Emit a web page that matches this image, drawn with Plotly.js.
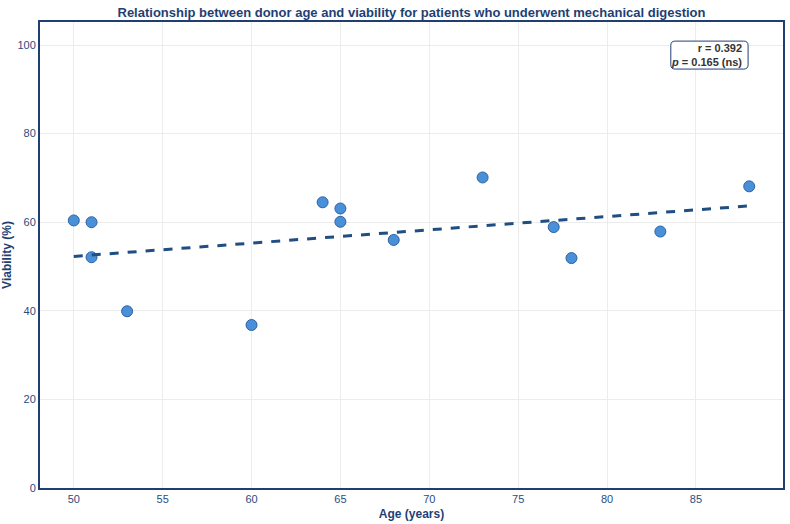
<!DOCTYPE html>
<html>
<head>
<meta charset="utf-8">
<script src="https://cdn.plot.ly/plotly-3.0.1.min.js"></script>
<style>
  html, body { margin: 0; padding: 0; background: #ffffff; }
  #chart { width: 790px; height: 524px; }
</style>
</head>
<body>
<div id="chart"></div>
<script>
// Donor age (years) and cell viability (%) for mechanically digested samples
const donorAge = [50, 51, 51, 53, 60, 64, 65, 65, 68, 73, 77, 78, 83, 88];
const viability = [60.4, 60.0, 52.1, 39.9, 36.8, 64.5, 63.1, 60.1, 56.0, 70.1, 58.9, 51.9, 57.9, 68.1];

// Correlation statistics as reported
const statR = "0.392";
const statP = "0.165";
const statSig = "ns";

// Least-squares fit for the trend line
function linearFit(xs, ys) {
  const n = xs.length;
  const mx = xs.reduce((a, b) => a + b, 0) / n;
  const my = ys.reduce((a, b) => a + b, 0) / n;
  let sxy = 0, sxx = 0;
  for (let i = 0; i < n; i++) {
    sxy += (xs[i] - mx) * (ys[i] - my);
    sxx += (xs[i] - mx) * (xs[i] - mx);
  }
  const slope = sxy / sxx;
  return { slope: slope, intercept: my - slope * mx };
}
const fit = linearFit(donorAge, viability);
const xMin = Math.min(...donorAge), xMax = Math.max(...donorAge);
const fitX = [xMin, xMax];
const fitY = fitX.map(x => fit.intercept + fit.slope * x);

const navy = "#1f3f73";
const tickColor = "#2b4c7e";

const traces = [
  {
    x: donorAge, y: viability,
    type: "scatter", mode: "markers",
    marker: { size: 11, color: "#4a90d9", line: { color: "#2c62a3", width: 1 } },
    hoverinfo: "x+y", showlegend: false
  },
  {
    x: fitX, y: fitY,
    type: "scatter", mode: "lines",
    line: { color: "#1f4e82", width: 3, dash: "dash" },
    hoverinfo: "skip", showlegend: false
  }
];

// Rounded frame for the statistics box (paper coordinates)
function roundedBox(x0, y0, x1, y1, rx, ry) {
  return "M " + (x0 + rx) + " " + y1 +
    " L " + (x1 - rx) + " " + y1 +
    " Q " + x1 + " " + y1 + " " + x1 + " " + (y1 - ry) +
    " L " + x1 + " " + (y0 + ry) +
    " Q " + x1 + " " + y0 + " " + (x1 - rx) + " " + y0 +
    " L " + (x0 + rx) + " " + y0 +
    " Q " + x0 + " " + y0 + " " + x0 + " " + (y0 + ry) +
    " L " + x0 + " " + (y1 - ry) +
    " Q " + x0 + " " + y1 + " " + (x0 + rx) + " " + y1 + " Z";
}

const layout = {
  width: 790, height: 524,
  margin: { l: 40, r: 7, t: 22, b: 36 },
  paper_bgcolor: "#ffffff",
  plot_bgcolor: "#ffffff",
  font: { family: "Liberation Sans, Arial, sans-serif", color: tickColor, size: 11 },
  title: {
    text: "<b>Relationship between donor age and viability for patients who underwent mechanical digestion</b>",
    font: { size: 13, color: navy },
    xref: "paper", x: 0.5, xanchor: "center", y: 0.977, yanchor: "middle"
  },
  xaxis: {
    range: [48.1, 89.9],
    tickvals: [50, 55, 60, 65, 70, 75, 80, 85],
    showgrid: true, gridcolor: "#ececec", gridwidth: 1,
    zeroline: false,
    showline: true, linecolor: navy, linewidth: 2, mirror: true,
    ticks: "", ticklen: 0,
    tickfont: { size: 11, color: tickColor },
    title: { text: "<b>Age (years)</b>", font: { size: 12, color: navy }, standoff: 5 }
  },
  yaxis: {
    range: [0, 105.2],
    tickvals: [0, 20, 40, 60, 80, 100],
    showgrid: true, gridcolor: "#ececec", gridwidth: 1,
    zeroline: false,
    showline: true, linecolor: navy, linewidth: 2, mirror: true,
    ticks: "", ticklen: 0,
    tickfont: { size: 11, color: tickColor },
    title: { text: "<b>Viability (%)</b>", font: { size: 12, color: navy }, standoff: 10 }
  },
  shapes: [
    {
      type: "path", xref: "paper", yref: "paper",
      path: roundedBox(0.849, 0.899, 0.953, 0.959, 0.006, 0.009),
      fillcolor: "#ffffff", line: { color: navy, width: 1 }, layer: "above"
    }
  ],
  annotations: [
    {
      xref: "paper", yref: "paper", x: 0.948, y: 0.929,
      xanchor: "right", yanchor: "middle", align: "right",
      text: "<b>r = " + statR + "</b><br><b><i>p</i> = " + statP + " (" + statSig + ")</b>",
      showarrow: false,
      font: { size: 11, color: "#333333" }
    }
  ]
};

Plotly.newPlot("chart", traces, layout, { displayModeBar: false, staticPlot: true });
</script>
</body>
</html>
